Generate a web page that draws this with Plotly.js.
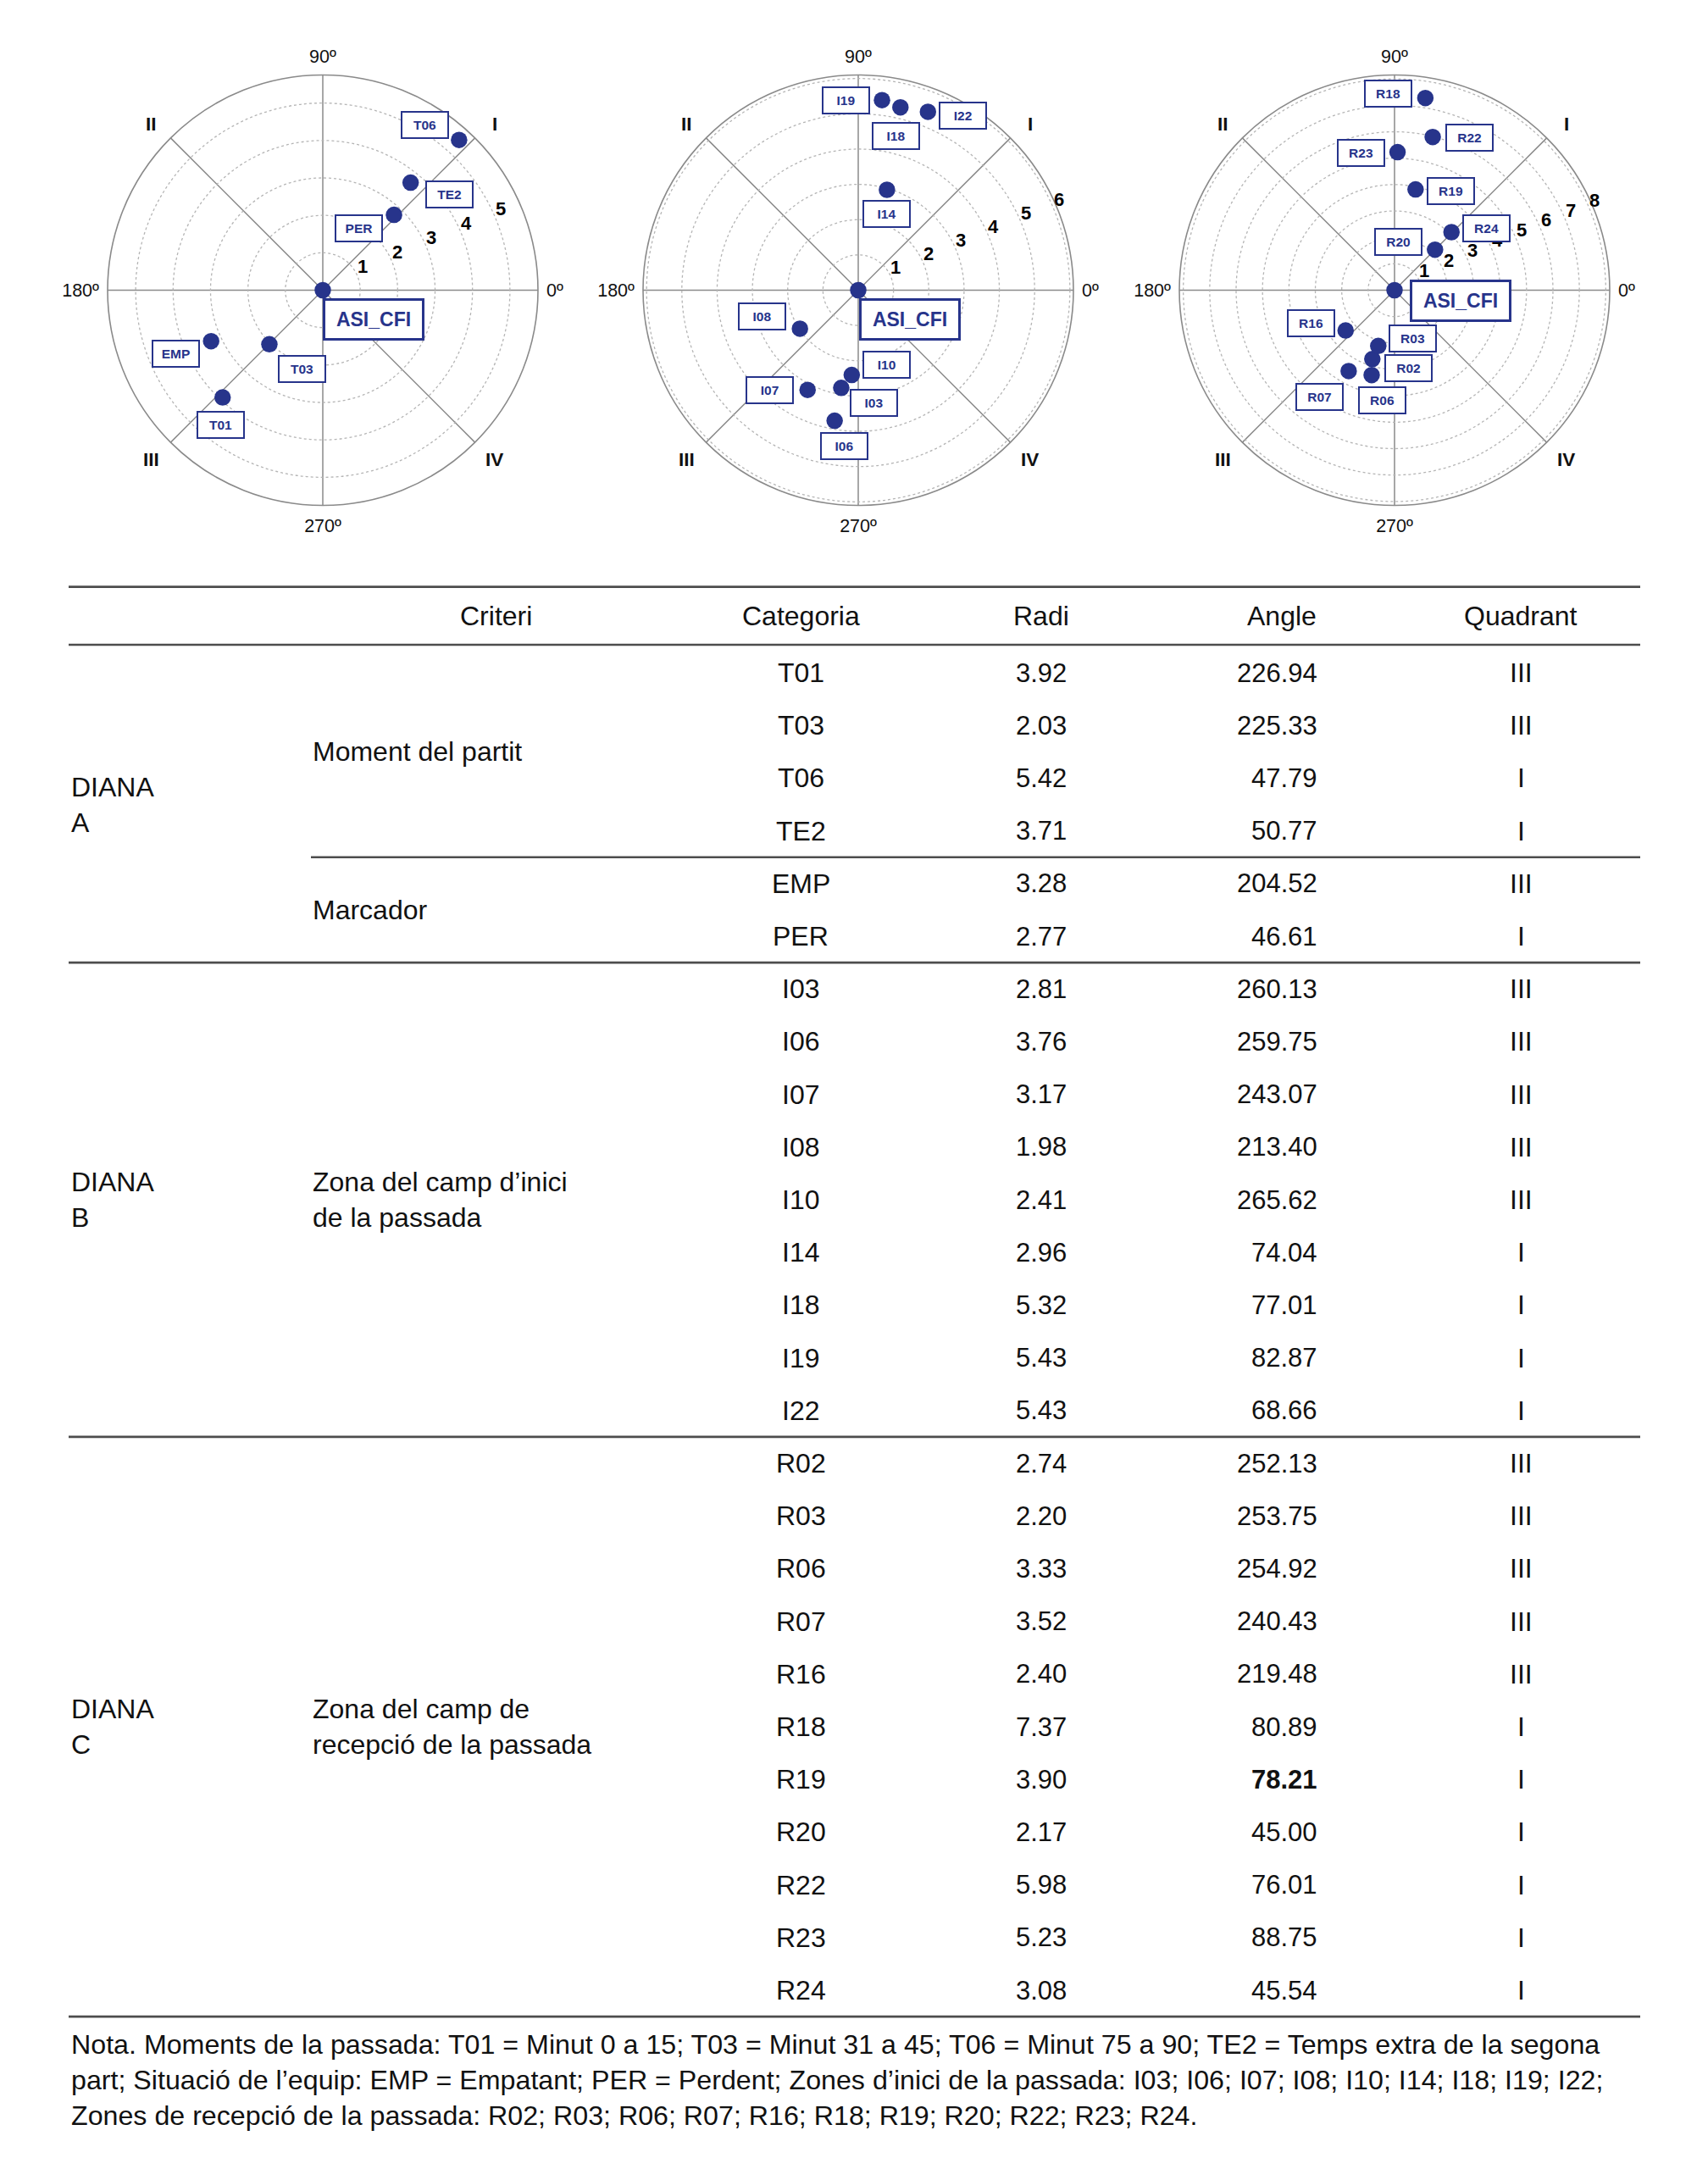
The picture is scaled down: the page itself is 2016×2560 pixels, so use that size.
<!DOCTYPE html>
<html><head><meta charset="utf-8">
<script src="https://cdn.plot.ly/plotly-3.0.1.min.js"></script>
<style>html,body{margin:0;padding:0;background:#fff}#chart{width:2016px;height:2560px}</style>
</head><body><div id="chart"></div>
<script>
// ---------------- DATA ----------------
const categories = ['T01','T03','T06','TE2','EMP','PER','I03','I06','I07','I08','I10','I14','I18','I19','I22','R02','R03','R06','R07','R16','R18','R19','R20','R22','R23','R24'];
const radi = [3.92,2.03,5.42,3.71,3.28,2.77,2.81,3.76,3.17,1.98,2.41,2.96,5.32,5.43,5.43,2.74,2.20,3.33,3.52,2.40,7.37,3.90,2.17,5.98,5.23,3.08];
const angles = [226.94,225.33,47.79,50.77,204.52,46.61,260.13,259.75,243.07,213.40,265.62,74.04,77.01,82.87,68.66,252.13,253.75,254.92,240.43,219.48,80.89,78.21,45.00,76.01,88.75,45.54];
const quadrants = ['III','III','I','I','III','I','III','III','III','III','III','I','I','I','I','III','III','III','III','III','I','I','I','I','I','I'];
const diana = ['A','A','A','A','A','A','B','B','B','B','B','B','B','B','B','C','C','C','C','C','C','C','C','C','C','C'];
const criteri = ['Moment del partit','Moment del partit','Moment del partit','Moment del partit','Marcador','Marcador',
  'Zona del camp d’inici<br>de la passada','Zona del camp d’inici<br>de la passada','Zona del camp d’inici<br>de la passada','Zona del camp d’inici<br>de la passada','Zona del camp d’inici<br>de la passada','Zona del camp d’inici<br>de la passada','Zona del camp d’inici<br>de la passada','Zona del camp d’inici<br>de la passada','Zona del camp d’inici<br>de la passada',
  'Zona del camp de<br>recepció de la passada','Zona del camp de<br>recepció de la passada','Zona del camp de<br>recepció de la passada','Zona del camp de<br>recepció de la passada','Zona del camp de<br>recepció de la passada','Zona del camp de<br>recepció de la passada','Zona del camp de<br>recepció de la passada','Zona del camp de<br>recepció de la passada','Zona del camp de<br>recepció de la passada','Zona del camp de<br>recepció de la passada','Zona del camp de<br>recepció de la passada'];
const boldAngleCategories = ['R19'];
const dianaKeys = ['A','B','C'];
const originLabel = 'ASI_CFI';
const radialMax = {A:5.75, B:6.1, C:8.15};
const radialTicks = {A:[1,2,3,4,5], B:[1,2,3,4,5,6], C:[1,2,3,4,5,6,7,8]};
const degreeTickVals = [0,90,180,270];
const degreeTickText = ['0º','90º','180º','270º'];
const quadrantAngles = [45,135,225,315];
const quadrantNames = ['I','II','III','IV'];
const headers = ['Criteri','Categoria','Radi','Angle','Quadrant'];
const noteLines = [
  'Nota. Moments de la passada: T01 = Minut 0 a 15; T03 = Minut 31 a 45; T06 = Minut 75 a 90; TE2 = Temps extra de la segona',
  'part; Situació de l’equip: EMP = Empatant; PER = Perdent; Zones d’inici de la passada: I03; I06; I07; I08; I10; I14; I18; I19; I22;',
  'Zones de recepció de la passada: R02; R03; R06; R07; R16; R18; R19; R20; R22; R23; R24.'
];

// ---------------- STYLE / LAYOUT ----------------
const W = 2016, H = 2560;
const FONT = '"Liberation Sans", Arial, Helvetica, sans-serif';
const NAVY = '#27348b';
const polarIds = {A:'polar', B:'polar2', C:'polar3'};
const polarCenters = {A:[381,342.5], B:[1013,342.5], C:[1646,342.5]};
const polarR = 254;
const radialLabelAngle = 22.5;
const radialLabelShift = [6, 11];
const quadrantLabelRadius = 1.107; // as a fraction of the radial range
const quadrantLabelShift = [[4,-3],[-4,-3],[-4,-1],[4,-1]];
const labelShift = {
  T01:[-2,-32], T03:[39,-29], T06:[-40,18], TE2:[46,-14], EMP:[-42,-15], PER:[-42,-16],
  I03:[39,-18], I06:[11,-30], I07:[-45,0], I08:[-45,14], I10:[41,12.5], I14:[0,-28.5], I18:[-5,-34], I19:[-43,0], I22:[41,-5],
  R02:[43,-11], R03:[41,8.5], R06:[13,-30], R07:[-34,-31], R16:[-41,9], R18:[-44,5], R19:[42,-2], R20:[-43.5,9.5], R22:[43.5,-1], R23:[-43.5,-1], R24:[41,4.5]
};
const originShift = {A:[60,-34], B:[61,-34], C:[78,-12.5]};

function polarLayout(d){
  const [cx,cy] = polarCenters[d];
  return {
    domain:{x:[(cx-polarR)/W,(cx+polarR)/W], y:[1-(cy+polarR)/H, 1-(cy-polarR)/H]},
    bgcolor:'#ffffff',
    radialaxis:{range:[0,radialMax[d]], tickmode:'array', tickvals:radialTicks[d], showticklabels:false,
      angle:radialLabelAngle, showline:false, ticks:'',
      gridcolor:'#b5b5b5', griddash:'dot', gridwidth:1.3, layer:'below traces'},
    angularaxis:{tickmode:'array', tickvals:[0,45,90,135,180,225,270,315],
      ticktext:[0,45,90,135,180,225,270,315].map(v => { const k = degreeTickVals.indexOf(v); return k>=0 ? degreeTickText[k] : ''; }),
      direction:'counterclockwise', rotation:0, showline:true, linecolor:'#8a8a8a', linewidth:1.6,
      showgrid:true, gridcolor:'#8a8a8a', gridwidth:1.5, ticks:'outside', ticklen:5, tickcolor:'rgba(0,0,0,0)',
      tickfont:{family:FONT,size:21.5,color:'#111'}, layer:'below traces'}
  };
}
function toPaper(d, r, th){
  const [cx,cy] = polarCenters[d];
  const rr = r/radialMax[d]*polarR, a = th*Math.PI/180;
  return [(cx + rr*Math.cos(a))/W, 1 - (cy - rr*Math.sin(a))/H];
}

const traces = [];
const annotations = [];
const shapes = [];

dianaKeys.forEach(d => {
  const idx = categories.map((c,i)=>i).filter(i => diana[i]===d);
  traces.push({type:'scatterpolar', subplot:polarIds[d], mode:'markers',
    r:[0].concat(idx.map(i=>radi[i])), theta:[0].concat(idx.map(i=>angles[i])),
    marker:{size:19.5, color:NAVY}, hoverinfo:'skip', showlegend:false, cliponaxis:false});
  // radial tick labels
  radialTicks[d].forEach(n => {
    const [x,y] = toPaper(d, n, radialLabelAngle);
    annotations.push({xref:'paper', yref:'paper', x, y, xshift:radialLabelShift[0], yshift:radialLabelShift[1], text:String(n), showarrow:false,
      xanchor:'center', yanchor:'middle', font:{family:FONT,size:22,weight:'bold',color:'#000'}});
  });
  // quadrant numerals
  quadrantAngles.forEach((a,k) => {
    const [x,y] = toPaper(d, radialMax[d]*quadrantLabelRadius, a);
    annotations.push({xref:'paper', yref:'paper', x, y, xshift:quadrantLabelShift[k][0], yshift:quadrantLabelShift[k][1], text:quadrantNames[k], showarrow:false,
      xanchor:'center', yanchor:'middle', font:{family:FONT,size:22.5,weight:'bold',color:'#111'}});
  });
  idx.forEach(i => {
    const [x,y] = toPaper(d, radi[i], angles[i]);
    const s = labelShift[categories[i]];
    annotations.push({xref:'paper', yref:'paper', x, y, xshift:s[0], yshift:s[1], text:categories[i], showarrow:false,
      xanchor:'center', yanchor:'middle', font:{family:FONT,size:15.5,weight:'bold',color:NAVY},
      bordercolor:NAVY, borderwidth:2, borderpad:0, bgcolor:'#fff', width:53, height:29});
  });
  const [ox,oy] = toPaper(d, 0, 0);
  annotations.push({xref:'paper', yref:'paper', x:ox, y:oy, xshift:originShift[d][0], yshift:originShift[d][1], text:originLabel, showarrow:false,
    xanchor:'center', yanchor:'middle', font:{family:FONT,size:23,weight:'bold',color:NAVY},
    bordercolor:NAVY, borderwidth:3, borderpad:0, bgcolor:'#fff', width:114, height:44});
});

// ---------------- TABLE ----------------
const TFONT = {family:FONT, size:32, color:'#111'};
const NFONT = {family:FONT, size:31, color:'#111'};
const col = {diana:82, criteriLeft:367, criteriHead:585, categoria:945, radi:1229, angleHead:1513, angleRight:1557, quadrant:1795, lineL:81, lineR:1936};
const rows = categories.map((c,i)=>i);
// invisible anchor trace so the table axes exist
traces.push({type:'scatter', xaxis:'x', yaxis:'y', mode:'markers', x:rows.map(()=>col.categoria), y:rows,
  marker:{size:1, opacity:0}, hoverinfo:'skip', showlegend:false});
rows.forEach(i => {
  const t = angles[i].toFixed(2);
  annotations.push({xref:'x', yref:'y', x:col.categoria, y:i, text:categories[i], showarrow:false, xanchor:'center', yanchor:'middle', font:TFONT});
  annotations.push({xref:'x', yref:'y', x:col.radi, y:i, text:radi[i].toFixed(2), showarrow:false, xanchor:'center', yanchor:'middle', font:NFONT});
  annotations.push({xref:'x', yref:'y', x:col.angleRight, y:i, text: boldAngleCategories.includes(categories[i]) ? '<b>'+t+'</b>' : t,
    showarrow:false, xanchor:'right', yanchor:'middle', font:NFONT});
  annotations.push({xref:'x', yref:'y', x:col.quadrant, y:i, text:quadrants[i], showarrow:false, xanchor:'center', yanchor:'middle', font:TFONT});
});
const headerY = -1.08;
const headerX = [col.criteriHead, col.categoria, col.radi, col.angleHead, col.quadrant];
headers.forEach((h,k) => annotations.push({xref:'x', yref:'y', x:headerX[k], y:headerY, text:h, showarrow:false, xanchor:'center', yanchor:'middle', font:TFONT}));

function runs(arr){ const out=[]; let s=0; for(let i=1;i<=arr.length;i++){ if(i===arr.length || arr[i]!==arr[s]){ out.push({v:arr[s], s, e:i-1}); s=i; } } return out; }
const dRuns = runs(diana), cRuns = runs(criteri);
dRuns.forEach(r => annotations.push({xref:'x', yref:'y', x:col.diana, y:(r.s+r.e)/2, text:'DIANA<br>'+r.v, showarrow:false, xanchor:'left', yanchor:'middle', align:'left', font:TFONT}));
cRuns.forEach(r => annotations.push({xref:'x', yref:'y', x:col.criteriLeft, y:(r.s+r.e)/2, text:r.v, showarrow:false, xanchor:'left', yanchor:'middle', align:'left', font:TFONT}));

const LINE = {color:'#4d4d4d', width:2.6};
[-1.63, -0.53].forEach(y => shapes.push({type:'line', xref:'x', yref:'y', x0:col.lineL, x1:col.lineR, y0:y, y1:y, line:LINE}));
dRuns.forEach(r => shapes.push({type:'line', xref:'x', yref:'y', x0:col.lineL, x1:col.lineR, y0:r.e+0.5, y1:r.e+0.5, line:LINE}));
cRuns.forEach(r => { if (!dRuns.some(dr => dr.e===r.e)) shapes.push({type:'line', xref:'x', yref:'y', x0:col.criteriLeft, x1:col.lineR, y0:r.e+0.5, y1:r.e+0.5, line:LINE}); });

annotations.push({xref:'paper', yref:'paper', x:82/W, y:1-2455/H, text:noteLines.join('<br>'), showarrow:false, xanchor:'left', yanchor:'middle', align:'left', font:{family:FONT, size:32.2, color:'#111'}});

const layout = {
  width:W, height:H, margin:{l:0,r:0,t:0,b:0}, paper_bgcolor:'#fff', plot_bgcolor:'rgba(0,0,0,0)', showlegend:false,
  polar:polarLayout('A'), polar2:polarLayout('B'), polar3:polarLayout('C'),
  xaxis:{domain:[0,1], range:[0,W], visible:false, fixedrange:true},
  yaxis:{domain:[1-(794+62.2*28)/H, 1-(794-62.2*2)/H], range:[28,-2], visible:false, fixedrange:true},
  annotations, shapes
};
Plotly.newPlot('chart', traces, layout, {staticPlot:true, displayModeBar:false});
</script></body></html>
